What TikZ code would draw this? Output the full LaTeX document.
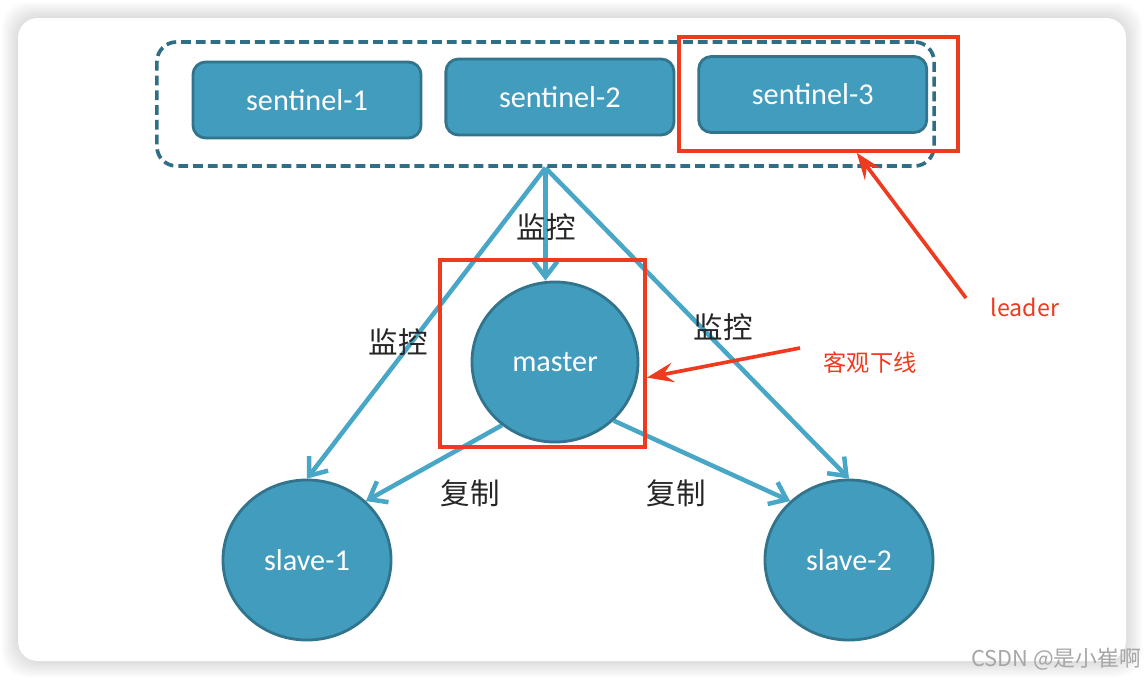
\documentclass[tikz,border=0pt]{standalone}
\usepackage{fontspec}
\setmainfont{Carlito}
\newfontfamily\cjkfont{Noto Sans CJK SC}
\usepackage{tikz}
\usetikzlibrary{arrows.meta,positioning,shapes.geometric}
\pgfdeclarelayer{bglayer}
\pgfdeclarelayer{edgelayer}
\pgfsetlayers{bglayer,edgelayer,main}
\definecolor{boxfill}{HTML}{429CBE}
\definecolor{boxline}{HTML}{31748C}
\definecolor{linkblue}{HTML}{48A6C6}
\definecolor{dashline}{HTML}{2F6F85}
\definecolor{markred}{HTML}{EE3A1E}
\tikzset{>={Straight Barb[length=11pt,width=17pt]}}
\tikzstyle{sentinel} = [rectangle,
                        rounded corners=9pt,
                        draw=boxline,
                        fill=boxfill,
                        line width=2pt,
                        minimum width=5.7cm,
                        minimum height=1.9cm,
                        text=white,
                        font=\fontsize{21.5pt}{25pt}\selectfont]
\tikzstyle{redis}    = [ellipse,
                        draw=boxline,
                        fill=boxfill,
                        line width=2pt,
                        minimum width=4.2cm,
                        minimum height=4cm,
                        text=white,
                        font=\fontsize{21.5pt}{25pt}\selectfont]
\tikzstyle{group}    = [rectangle,
                        draw=dashline,
                        line width=2.6pt,
                        dash pattern=on 7pt off 3.5pt,
                        rounded corners=14pt,
                        minimum width=19.425cm,
                        minimum height=3.1cm]
\tikzstyle{arrow}    = [->,
                        draw=linkblue,
                        line width=3.2pt]
\tikzstyle{cntext}   = [font=\cjkfont\fontsize{21pt}{25pt}\selectfont,
                        text=black!85]
\tikzstyle{markbox}  = [rectangle,
                        draw=markred,
                        line width=2.6pt,
                        inner sep=0pt]
\tikzstyle{marktext} = [font=\cjkfont\fontsize{16.5pt}{20pt}\selectfont,
                        text=markred]
\tikzstyle{markarrow} = [-{Stealth[length=19pt,width=14pt,inset=7pt]},
                        draw=markred,
                        fill=markred,
                        line width=2.6pt]

\begin{document}
\begin{tikzpicture}[x=0.025cm, y=-0.025cm]

  \useasboundingbox (0,0) rectangle (1144,679);

  % Card
  \begin{pgfonlayer}{bglayer}
    \fill[white] (0,0) rectangle (1144,679);
    \foreach \s in {16,14,...,2}
      \fill[black, opacity=0.016, rounded corners=18pt]
        ({18-\s},{18-\s}) rectangle ({1126+\s},{661+\s});
    \fill[white, rounded corners=14pt] (18,18) rectangle (1126,661);
  \end{pgfonlayer}

  % Nodes
  \node[group] (group) at (545.5,104) {};
  \node[sentinel] (s1) at (307,100) {sentinel-1};
  \node[sentinel, right=0.55cm of s1, yshift=0.075cm] (s2) {sentinel-2};
  \node[sentinel, right=0.55cm of s2, yshift=0.0625cm] (s3) {sentinel-3};

  \node[redis, minimum width=4.15cm] (master) at (555,362) {master};
  \node[redis] (slave1) at (307,560) {slave-1};
  \node[redis] (slave2) at (849,560) {slave-2};

  \node[cntext] (watch0) at (546,227) {监控};
  \node[cntext] (watch1) at (398,342) {监控};
  \node[cntext] (watch2) at (723,327) {监控};
  \node[cntext] (copy1) at (470,493) {复制};
  \node[cntext] (copy2) at (676,493) {复制};

  % Edges
  \begin{pgfonlayer}{edgelayer}
    \draw[arrow] (group.south) -- (group.south |- master.north);
    \draw[arrow] (group.south) -- (slave1.north);
    \draw[arrow] (group.south) -- (slave2.north);
    \draw[arrow] (master.-130) -- (slave1.45);
    \draw[arrow] (master.-45) -- (slave2.135);
  \end{pgfonlayer}

  % Marks
  \node[markbox, minimum width=6.975cm, minimum height=2.85cm] (leaderbox) at (818.5,94) {};
  \node[markbox, minimum width=5.125cm, minimum height=4.675cm] (downbox) at (542.5,353.5) {};
  \node[marktext] (leader) at (1025,307) {leader};
  \node[marktext] (odown) at (870,363) {客观下线};
  \coordinate (leadtail) at (966,298);
  \coordinate (odowntail) at (800,348);
  \draw[markarrow] (leadtail) -- (leaderbox.-57);
  \draw[markarrow] (odowntail) -- (downbox.-13);

  \node[font=\cjkfont\fontsize{15.5pt}{18pt}\selectfont, text=black!35] (csdn) at (1056,659) {CSDN @是小崔啊};

\end{tikzpicture}
\end{document}
